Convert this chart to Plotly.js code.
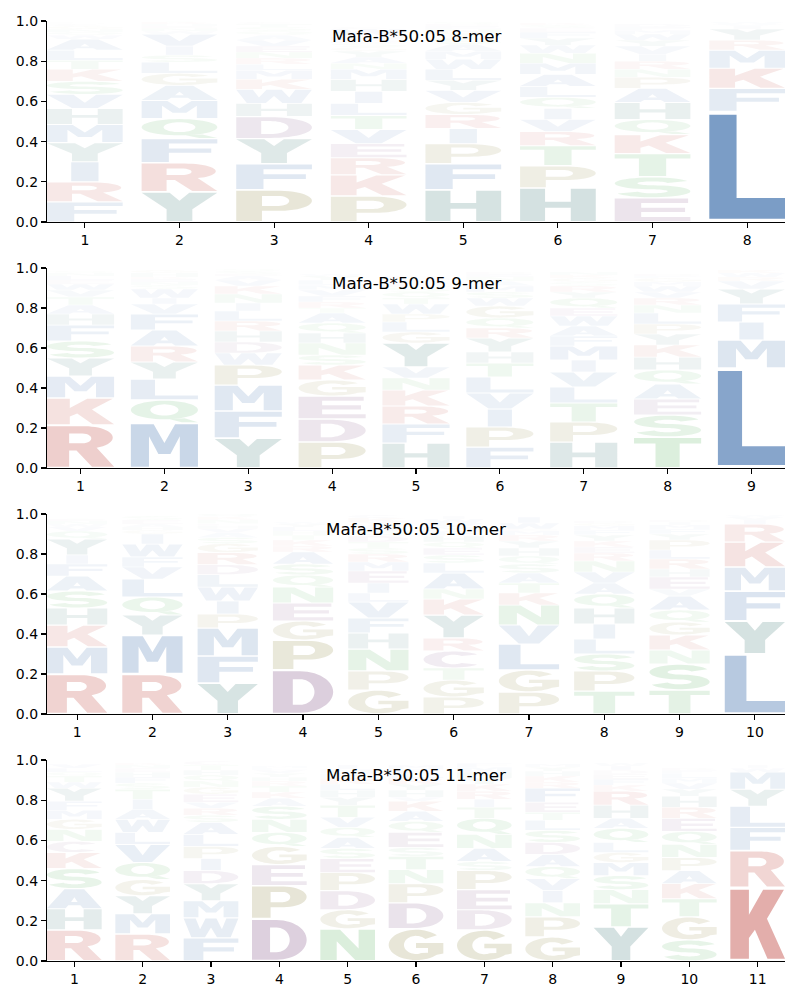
<!DOCTYPE html>
<html><head><meta charset="utf-8">
<script src="https://cdn.plot.ly/plotly-3.0.1.min.js"></script>
<style>body{margin:0;background:#fff}#chart{width:800px;height:1000px}</style>
</head><body><div id="chart"></div>
<script>
// ---------------- DATA ----------------
const TITLES = ["Mafa-B*50:05 8-mer", "Mafa-B*50:05 9-mer", "Mafa-B*50:05 10-mer", "Mafa-B*50:05 11-mer"];
const Y_TICKS = [0, 0.2, 0.4, 0.6, 0.8, 1.0];
const Y_TICK_LABELS = ["0.0", "0.2", "0.4", "0.6", "0.8", "1.0"];

// letters per position, bottom -> top
const LETTERS_8 = ["FRIYMHVSKTLAWQNGCDE", "YRFQMAGLSIVWNEHKT", "PFYDHWKMLRNEVAQSTC", "PKREVTLIHMNAYGSDFQWC",
  "HFPIRGVYLWMASTNEDQ", "HPTRVIQLAMNWYFESK", "ESTKQHAPNRIVYWMFD", "LFKMRYIVW"];
const PROBS_8 = [
  [.10,.10,.10,.095,.09,.08,.07,.065,.06,.045,.05,.055,.02,.015,.015,.015,.01,.005,.005],
  [.15,.145,.12,.10,.09,.075,.06,.055,.035,.045,.06,.015,.015,.01,.01,.01,.005],
  [.16,.13,.125,.11,.065,.07,.05,.045,.03,.03,.03,.03,.03,.025,.02,.02,.015,.01],
  [.13,.105,.085,.07,.07,.07,.06,.06,.06,.05,.03,.03,.03,.02,.02,.015,.015,.01,.03,.01],
  [.16,.13,.10,.075,.07,.06,.06,.05,.055,.05,.04,.035,.03,.025,.02,.015,.01,.01],
  [.17,.11,.10,.07,.06,.055,.055,.055,.06,.055,.05,.04,.035,.03,.02,.015,.01],
  [.12,.105,.115,.095,.075,.085,.07,.055,.04,.04,.035,.04,.03,.03,.02,.015,.015],
  [.55,.115,.10,.09,.05,.055,.015,.01,.01]
];

const LETTERS_9 = ["RKMYSFHATVWELNQ", "MQLYRAFVIWSNEKHG", "YFMPWDHRLINKVAESQ", "PDEGKSNHQATRFVMLYW",
  "HFRKNVYGLPWTQSEAMD", "FPIVLTHYRQGWSMANED", "HPTLVIMFAWEQYRSGKN", "TSEAQHKYPLNRVWMGFD", "LMIFYVRWK"];
const PROBS_9 = [
  [.215,.135,.11,.09,.085,.08,.055,.045,.04,.035,.03,.02,.02,.015,.01],
  [.225,.115,.105,.085,.08,.08,.08,.05,.03,.045,.02,.015,.015,.01,.02,.015],
  [.15,.135,.13,.10,.06,.055,.055,.05,.05,.04,.045,.04,.03,.02,.01,.015,.01],
  [.13,.115,.115,.08,.075,.05,.06,.05,.05,.05,.025,.03,.03,.03,.025,.025,.02,.01],
  [.125,.095,.09,.08,.06,.055,.12,.055,.05,.04,.05,.03,.03,.025,.02,.015,.01,.01],
  [.105,.10,.09,.08,.08,.07,.055,.07,.05,.05,.06,.04,.03,.03,.025,.02,.015,.01],
  [.13,.10,.095,.08,.075,.06,.07,.05,.05,.05,.04,.05,.03,.03,.02,.02,.015,.015],
  [.155,.11,.08,.075,.07,.065,.06,.055,.05,.055,.04,.035,.03,.03,.02,.02,.01,.01],
  [.50,.14,.09,.09,.075,.04,.02,.02,.015]
];

const LETTERS_10 = ["RMKHSAFIYQVWNET", "RMYQLVFWIGHAES", "YFMPIWLDRGSAVHENKQ", "DPGENQSARKTHLYW",
  "GPNHFVLIEMRSTDQAWYKC", "PGTCRYKNALSEQHFMVWI", "PGLVNKTASQHYRMDWI", "TPSLIHQAVNREKYFMGD",
  "TSNKGQAVEHRLPYFMID", "LYFMKRIVW"];
const PROBS_10 = [
  [.20,.135,.11,.085,.085,.075,.06,.045,.08,.04,.02,.015,.015,.01,.005],
  [.20,.195,.10,.09,.09,.06,.05,.065,.05,.02,.015,.015,.02,.02],
  [.155,.135,.14,.07,.065,.07,.062,.05,.06,.045,.03,.025,.02,.015,.01,.02,.015,.015],
  [.22,.15,.095,.09,.08,.06,.055,.06,.03,.03,.025,.02,.02,.015,.01],
  [.12,.095,.11,.08,.075,.08,.045,.05,.06,.045,.04,.03,.03,.03,.025,.02,.015,.01,.02,.015],
  [.085,.085,.06,.085,.065,.115,.08,.05,.08,.05,.04,.035,.03,.03,.025,.02,.02,.02,.015],
  [.11,.11,.13,.095,.10,.06,.05,.05,.045,.04,.04,.035,.03,.02,.01,.03,.03],
  [.115,.10,.085,.075,.075,.08,.07,.055,.055,.055,.04,.03,.03,.03,.025,.02,.015,.01],
  [.12,.13,.07,.075,.065,.06,.07,.035,.06,.04,.05,.045,.05,.03,.025,.02,.015,.01],
  [.30,.165,.15,.12,.125,.09,.02,.015,.01]
];

const LETTERS_11 = ["RHASKCNGMFYWTQLV", "RMYGQVLWAITSFHENK", "FWMYDIPLASRVEGNQHTC", "DPEGQNSAKTRHYVLM",
  "NGDPESAQVTYHLRFMI", "GDPNTSEQAKVHYRLFM", "GDEPSANQTIRKYHMF", "GPNIVQADSLTEFRKHYM",
  "YTNSMGLQAHRKFEDIW", "SGTKAPNQERHYVMLFD", "KRFLYMWI"];
const PROBS_11 = [
  [.155,.105,.10,.10,.08,.055,.06,.05,.045,.045,.065,.03,.03,.02,.02,.02],
  [.135,.10,.09,.08,.085,.09,.06,.065,.05,.05,.05,.03,.03,.025,.02,.015,.01],
  [.115,.10,.085,.085,.065,.06,.06,.06,.06,.035,.035,.03,.04,.035,.03,.03,.025,.025,.02],
  [.21,.165,.105,.09,.07,.065,.065,.04,.03,.03,.025,.02,.02,.015,.01,.01],
  [.16,.095,.095,.09,.07,.05,.055,.05,.05,.06,.04,.035,.03,.03,.025,.02,.02],
  [.16,.13,.095,.07,.065,.045,.075,.055,.05,.05,.02,.035,.03,.03,.025,.02,.02],
  [.155,.10,.10,.095,.045,.065,.07,.08,.055,.04,.04,.035,.03,.03,.025,.02],
  [.12,.10,.07,.06,.06,.06,.06,.06,.06,.05,.04,.05,.07,.03,.03,.025,.02,.015],
  [.17,.115,.07,.07,.065,.05,.05,.07,.05,.065,.07,.03,.03,.025,.02,.02,.015],
  [.105,.115,.09,.075,.065,.065,.065,.065,.065,.055,.055,.035,.03,.025,.025,.015,.01],
  [.365,.185,.115,.105,.085,.085,.02,.015]
];

const MOTIFS = [
  {letters: LETTERS_8, probs: PROBS_8},
  {letters: LETTERS_9, probs: PROBS_9},
  {letters: LETTERS_10, probs: PROBS_10},
  {letters: LETTERS_11, probs: PROBS_11}
];

// ---------------- STYLE ----------------
const GROUP_COLORS = {
  AFILMVW: [15, 76, 151],
  KR: [178, 34, 24],
  DEC: [95, 35, 100],
  GP: [110, 100, 10],
  NQST: [30, 150, 40],
  HY: [0, 80, 75]
};
function letterColor(ch) {
  for (const k in GROUP_COLORS) if (k.indexOf(ch) >= 0) return GROUP_COLORS[k];
  return [80, 80, 80];
}

// ---------------- GLYPH OUTLINES (unit box) ----------------
function arc(cx, cy, rx, ry, a0, a1, n) {
  const pts = [];
  for (let i = 0; i <= n; i++) {
    const a = (a0 + (a1 - a0) * i / n) * Math.PI / 180;
    pts.push([cx + rx * Math.cos(a), cy + ry * Math.sin(a)]);
  }
  return pts;
}
function stroke(spine, tx, ty) {
  const q = spine.map(p => [p[0] / tx, p[1] / ty]);
  const L = [], R = [];
  for (let i = 0; i < q.length; i++) {
    const a = q[Math.max(0, i - 1)], b = q[Math.min(q.length - 1, i + 1)];
    let dx = b[0] - a[0], dy = b[1] - a[1];
    const m = Math.hypot(dx, dy) || 1; dx /= m; dy /= m;
    const nx = -dy, ny = dx;
    L.push([(q[i][0] + nx) * tx, (q[i][1] + ny) * ty]);
    R.push([(q[i][0] - nx) * tx, (q[i][1] - ny) * ty]);
  }
  return L.concat(R.reverse());
}
const GLYPHS = {
  L: {w: 1, p: [[[0,0],[1,0],[1,.2],[.36,.2],[.36,1],[0,1]]]},
  I: {w: .36, p: [[[0,0],[1,0],[1,1],[0,1]]]},
  E: {w: 1, p: [[[0,0],[1,0],[1,.19],[.35,.19],[.35,.41],[.93,.41],[.93,.6],[.35,.6],[.35,.81],[.97,.81],[.97,1],[0,1]]]},
  F: {w: 1, p: [[[0,0],[.36,0],[.36,.41],[.92,.41],[.92,.6],[.36,.6],[.36,.81],[1,.81],[1,1],[0,1]]]},
  T: {w: 1, p: [[[.32,0],[.68,0],[.68,.81],[1,.81],[1,1],[0,1],[0,.81],[.32,.81]]]},
  H: {w: 1, p: [[[0,0],[.33,0],[.33,.41],[.67,.41],[.67,0],[1,0],[1,1],[.67,1],[.67,.6],[.33,.6],[.33,1],[0,1]]]},
  K: {w: 1, p: [[[0,0],[.34,0],[.34,.3],[.45,.42],[.68,0],[1,0],[.67,.58],[.98,1],[.6,1],[.34,.64],[.34,1],[0,1]]]},
  M: {w: 1, p: [[[0,0],[.27,0],[.27,.72],[.41,.3],[.59,.3],[.73,.72],[.73,0],[1,0],[1,1],[.66,1],[.5,.56],[.34,1],[0,1]]]},
  N: {w: 1, p: [[[0,0],[.3,0],[.3,.62],[.64,0],[1,0],[1,1],[.7,1],[.7,.38],[.36,1],[0,1]]]},
  V: {w: 1, p: [[[0,1],[.35,1],[.5,.4],[.65,1],[1,1],[.67,0],[.33,0]]]},
  W: {w: 1, p: [[[0,1],[.22,1],[.3,.42],[.4,1],[.6,1],[.7,.42],[.78,1],[1,1],[.86,0],[.61,0],[.5,.52],[.39,0],[.14,0]]]},
  Y: {w: 1, p: [[[0,1],[.37,1],[.5,.72],[.63,1],[1,1],[.67,.42],[.67,0],[.33,0],[.33,.42]]]},
  A: {w: 1, p: [[[0,0],[.34,0],[.39,.15],[.61,.15],[.66,0],[1,0],[.68,1],[.32,1]], [[.44,.33],[.56,.33],[.5,.58]]]},
  D: {w: 1, p: [[[0,0],[.45,0]].concat(arc(.45,.5,.55,.5,-90,90,28)).concat([[0,1]]),
               [[.33,.19]].concat(arc(.45,.5,.24,.31,-90,90,22)).concat([[.33,.81]])]},
  P: {w: 1, p: [[[0,0],[.34,0],[.34,.34]].concat(arc(.58,.67,.42,.33,-90,90,22)).concat([[0,1]]),
               [[.34,.5]].concat(arc(.56,.665,.14,.165,-90,90,16)).concat([[.34,.83]])]},
  R: {w: 1, p: [[[0,0],[.33,0],[.33,.4],[.44,.4],[.67,0],[1,0],[.74,.47]].concat(arc(.57,.72,.41,.28,-50,90,20)).concat([[0,1]]),
               [[.33,.58]].concat(arc(.53,.7,.13,.12,-90,90,14)).concat([[.33,.82]])]},
  C: {w: 1, p: [stroke(arc(.5,.5,.35,.4,42,318,44), .15, .1)]},
  G: {w: 1, p: [arc(.5,.5,.5,.5,40,320,44).concat([[1,.22],[1,.56],[.5,.56],[.5,.4],[.72,.4],[.72,.24]]).concat(arc(.5,.5,.22,.3,-62,-320,40))]},
  O: {w: 1, p: [arc(.5,.5,.5,.5,0,360,48), arc(.5,.5,.21,.3,0,360,40)]},
  Q: {w: 1, p: [arc(.5,.57,.5,.43,0,360,48), arc(.5,.57,.21,.26,0,360,40), [[.58,.14],[.76,0],[1,0],[.8,.19]]]},
  S: {w: 1, p: [stroke(arc(.5,.7,.35,.2,20,270,30).concat(arc(.5,.3,.35,.2,90,-160,30).slice(1)), .15, .1)]}
};

const LETTER_WIDTH = 0.8;
const VPAD = 0.03;
function glyphPath(ch, xc, y0, h) {
  const g = GLYPHS[ch];
  const W = LETTER_WIDTH * g.w, x0 = xc - W / 2;
  const yb = y0 + h * VPAD, hh = h * (1 - 2 * VPAD);
  return g.p.map(poly => 'M' + poly.map(([gx, gy]) =>
    (x0 + gx * W).toFixed(4) + ',' + (yb + gy * hh).toFixed(5)).join('L') + 'Z').join(' ');
}

// ---------------- BUILD ----------------
const DOMAINS_Y = [[0.778, 0.979], [0.532, 0.732], [0.286, 0.486], [0.039, 0.240]];
const DOMAIN_X = [47 / 800, 785 / 800];

const data = [], shapes = [], annotations = [];
const layout = {
  width: 800, height: 1000,
  margin: {l: 0, r: 0, t: 0, b: 0},
  paper_bgcolor: '#ffffff', plot_bgcolor: 'rgba(0,0,0,0)',
  showlegend: false,
  font: {family: 'DejaVu Sans, sans-serif', size: 14, color: '#000'}
};

MOTIFS.forEach((m, i) => {
  const s = i === 0 ? '' : String(i + 1);
  const n = m.letters.length;
  const pos = m.letters.map((_, j) => j + 1);
  data.push({type: 'scatter', x: pos, y: pos.map(() => null), xaxis: 'x' + s, yaxis: 'y' + s,
    mode: 'markers', hoverinfo: 'skip', showlegend: false});
  layout['xaxis' + s] = {
    domain: DOMAIN_X, anchor: 'y' + s, range: [0.6, n + 0.4],
    tickvals: pos, ticktext: pos.map(String),
    showline: true, linecolor: '#000', linewidth: 1.1, mirror: false,
    ticks: 'outside', ticklen: 5, tickwidth: 1.1, tickcolor: '#000',
    showgrid: false, zeroline: false, fixedrange: true,
    tickfont: {size: 14, color: '#000'}
  };
  layout['yaxis' + s] = {
    domain: DOMAINS_Y[i], anchor: 'x' + s, range: [0, 1],
    tickvals: Y_TICKS, ticktext: Y_TICK_LABELS,
    showline: true, linecolor: '#000', linewidth: 1.1, mirror: false,
    ticks: 'outside', ticklen: 5, tickwidth: 1.1, tickcolor: '#000',
    showgrid: false, zeroline: false, fixedrange: true,
    tickfont: {size: 14, color: '#000'}
  };
  m.letters.forEach((str, j) => {
    let cum = 0;
    const probs = m.probs[j];
    str.split('').forEach((ch, k) => {
      const p = probs[k];
      const c = letterColor(ch);
      shapes.push({
        type: 'path', xref: 'x' + s, yref: 'y' + s,
        path: glyphPath(ch, j + 1, cum, p),
        fillcolor: `rgba(${c[0]},${c[1]},${c[2]},${Math.min(1, p).toFixed(3)})`,
        line: {width: 0}, layer: 'above', fillrule: 'evenodd'
      });
      cum += p;
    });
  });
  annotations.push({
    text: TITLES[i], showarrow: false,
    xref: 'x' + s + ' domain', yref: 'y' + s + ' domain', x: 0.5, y: 0.925,
    xanchor: 'center', yanchor: 'middle',
    font: {size: 16.7, color: '#000', family: 'DejaVu Sans, sans-serif'}
  });
});
layout.shapes = shapes;
layout.annotations = annotations;

Plotly.newPlot('chart', data, layout, {staticPlot: true, displayModeBar: false});
</script>
</body></html>
